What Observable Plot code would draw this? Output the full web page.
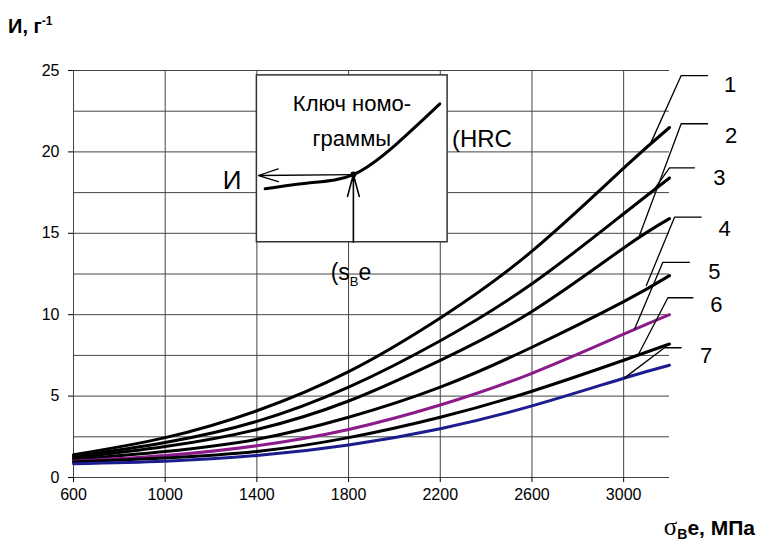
<!DOCTYPE html>
<html><head><meta charset="utf-8">
<script src="https://cdn.jsdelivr.net/npm/d3@7"></script>
<script src="https://cdn.jsdelivr.net/npm/@observablehq/plot@0.6"></script>
<style>body{margin:0;background:#fff} svg{display:block}</style>
</head><body><div id="chart"></div>
<script>
// --- data ---
const strength = [600, 1000, 1400, 1800, 2200, 2600, 3000, 3200];
const curve1 = [1.4, 2.45, 4.1, 6.5, 9.8, 13.9, 19.0, 21.5];
const curve2 = [1.3, 2.15, 3.45, 5.55, 8.4, 11.9, 16.2, 18.4];
const curve3 = [1.2, 1.9, 2.95, 4.7, 7.2, 10.2, 14.1, 15.9];
const curve4 = [1.1, 1.6, 2.35, 3.7, 5.55, 8.0, 10.8, 12.4];
const curve5 = [1.0, 1.35, 1.95, 2.95, 4.45, 6.4, 8.8, 10.0];
const curve6 = [0.95, 1.2, 1.6, 2.45, 3.7, 5.3, 7.2, 8.2];
const curve7 = [0.85, 1.0, 1.35, 2.0, 3.0, 4.4, 6.1, 6.9];
const seriesNames = ["1", "2", "3", "4", "5", "6", "7"];
const seriesColors = ["#000000", "#000000", "#000000", "#000000", "#8b1a8b", "#000000", "#1c1c8e"];

const xTicks = [600, 1000, 1400, 1800, 2200, 2600, 3000];
const yTicks = [0, 5, 10, 15, 20, 25];
const yGrid = [0, 2.5, 5, 7.5, 10, 12.5, 15, 17.5, 20, 22.5, 25];

// label leaders (data units)
const leaderX = [[3366, 3251, 3120], [3366, 3251, 3069], [3309, 3200, 3120], [3338, 3222, 3099], [3287, 3171, 3048], [3302, 3193, 3062], [3251, 3178, 3004]];
const leaderY = [[24.69, 24.69, 20.6], [21.73, 21.73, 14.86], [19.02, 19.02, 17.43], [15.99, 15.99, 11.79], [13.22, 13.22, 9.13], [11.04, 11.04, 7.49], [7.97, 7.97, 6.12]];
const labelX = [3464, 3469, 3418, 3440, 3396, 3404, 3360];
const labelY = [24.14, 21.01, 18.37, 15.29, 12.61, 10.57, 7.49];

// inset ("key of nomogram")
const insetBox = {x1: 1400, x2: 2232, y1: 14.45, y2: 24.7};
const insetCurveX = [1436, 1632, 1821, 2010, 2198];
const insetCurveY = [17.73, 18.10, 18.61, 20.50, 22.95];
const insetPoint = {x: 1821, y: 18.61};
const insetArrowH = {x1: 1821, y1: 18.61, x2: 1407, y2: 18.55};
const insetArrowV = {x1: 1821, y1: 14.45, x2: 1821, y2: 18.61};

// --- build tables ---
const curves = [curve1, curve2, curve3, curve4, curve5, curve6, curve7];
const rows = [];
curves.forEach((c, i) => c.forEach((v, j) => rows.push({s: seriesNames[i], x: strength[j], y: v, color: seriesColors[i]})));
const leaders = [];
leaderX.forEach((xs, i) => xs.forEach((x, j) => leaders.push({s: seriesNames[i], x, y: leaderY[i][j]})));
const labels = seriesNames.map((s, i) => ({s, x: labelX[i], y: labelY[i]}));
const insetCurve = insetCurveX.map((x, i) => ({x, y: insetCurveY[i]}));

const font = "'Liberation Sans', Arial, sans-serif";
const plot = Plot.plot({
  width: 758, height: 544,
  marginLeft: 73, marginRight: 89, marginTop: 70, marginBottom: 67,
  x: {domain: [600, 3200]},
  y: {domain: [0, 25]},
  color: {type: "identity"},
  style: {fontFamily: font, fontSize: "16px", color: "#000", background: "#fff", overflow: "visible"},
  marks: [
    Plot.ruleY(yGrid, {x1: 600, x2: 3200, stroke: "#444", strokeWidth: 1, strokeOpacity: 1}),
    Plot.ruleX(xTicks, {y1: 0, y2: 25, stroke: "#444", strokeWidth: 1, strokeOpacity: 1}),
    Plot.axisY(yTicks, {tickSize: 5, tickPadding: 9, label: null, fontSize: 16, stroke: "#000"}),
    Plot.axisX(xTicks, {tickSize: 5, tickPadding: 6, label: null, fontSize: 16, tickFormat: d3.format("d"), stroke: "#000"}),
    Plot.line(rows, {x: "x", y: "y", z: "s", stroke: "color", strokeWidth: 3, curve: "natural"}),
    Plot.line(leaders, {x: "x", y: "y", z: "s", stroke: "#000", strokeWidth: 1.3}),
    Plot.text(labels, {x: "x", y: "y", text: "s", fontSize: 22, fill: "#000"}),
    Plot.rect([insetBox], {x1: "x1", x2: "x2", y1: "y1", y2: "y2", fill: "#fff", stroke: "#333", strokeWidth: 1.5}),
    Plot.line(insetCurve, {x: "x", y: "y", stroke: "#000", strokeWidth: 3, curve: "natural"}),
    Plot.arrow([insetArrowH], {x1: "x1", y1: "y1", x2: "x2", y2: "y2", stroke: "#000", strokeWidth: 1.3, headAngle: 36, headLength: 24}),
    Plot.arrow([insetArrowV], {x1: "x1", y1: "y1", x2: "x2", y2: "y2", stroke: "#000", strokeWidth: 1.6, headAngle: 30, headLength: 24}),
    Plot.dot([insetPoint], {x: "x", y: "y", r: 3, fill: "#000"}),
    Plot.text(["Ключ номо-"], {x: 1815, y: 22.97, fontSize: 22, fill: "#000"}),
    Plot.text(["граммы"], {x: 1814, y: 20.8, fontSize: 22, fill: "#000"}),
    Plot.text(["И"], {x: 1292, y: 18.24, fontSize: 26, fill: "#000"}),
    Plot.text(["(HRC"], {x: 2251, y: 20.76, fontSize: 24, textAnchor: "start", fill: "#000"})
  ]
});

const svg = d3.select(plot);
const sx = plot.scale("x"), sy = plot.scale("y");
// (sВe annotation
const t1 = svg.append("text").attr("x", sx.apply(1724)).attr("y", sy.apply(12.53) + 7)
  .attr("text-anchor", "start").attr("font-family", font).attr("font-size", 23).attr("fill", "#000");
t1.append("tspan").text("(s");
t1.append("tspan").attr("font-size", 13).attr("dy", 6).text("В");
t1.append("tspan").attr("dy", -6).text("e");

// y title
const ty = svg.append("text").attr("x", 8).attr("y", 33).attr("text-anchor", "start").attr("font-family", font)
  .attr("font-size", 20).attr("font-weight", "bold").attr("fill", "#000");
ty.append("tspan").text("И, г");
ty.append("tspan").attr("font-size", 12).attr("dy", -8).text("-1");

// x title
const tx = svg.append("text").attr("x", 755).attr("y", 535).attr("text-anchor", "end")
  .attr("font-family", font).attr("font-size", 21).attr("font-weight", "bold").attr("fill", "#000");
tx.append("tspan").attr("font-family", "'Liberation Serif', 'DejaVu Serif', serif").attr("font-weight", "normal").attr("font-size", 25).text("σ");
tx.append("tspan").attr("font-size", 14).attr("dy", 4).text("В");
tx.append("tspan").attr("dy", -4).text("e, МПа");

document.getElementById("chart").appendChild(plot);
</script>
</body></html>
